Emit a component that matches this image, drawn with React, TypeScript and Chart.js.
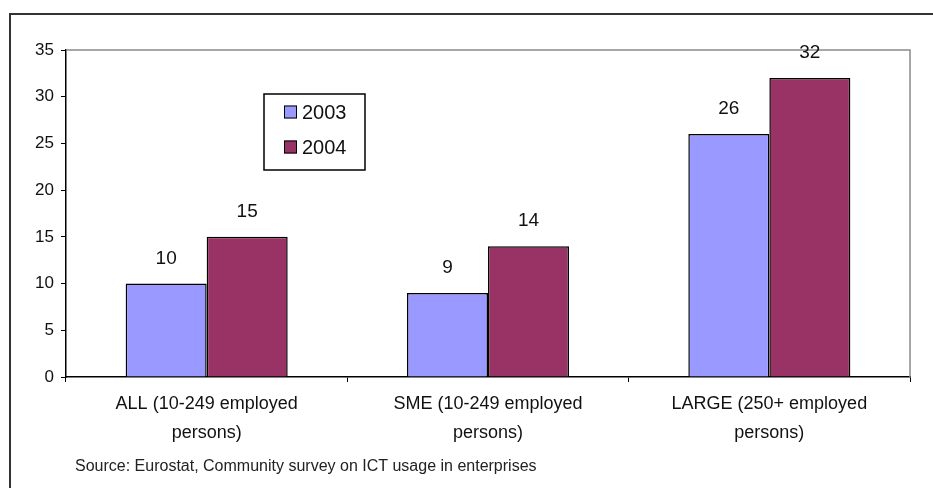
import React, { useEffect, useRef } from "react";
import { Chart, registerables } from "chart.js";

Chart.register(...registerables);

const categories: string[][] = [
  ["ALL (10-249 employed", "persons)"],
  ["SME (10-249 employed", "persons)"],
  ["LARGE (250+ employed", "persons)"],
];
const series2003: number[] = [10, 9, 26];
const series2004: number[] = [15, 14, 32];
const seriesNames: string[] = ["2003", "2004"];
const yTicks: number[] = [0, 5, 10, 15, 20, 25, 30, 35];
const sourceText = "Source: Eurostat, Community survey on ICT usage in enterprises";

const FONT = "'Liberation Sans', Arial, sans-serif";

const decor = {
  id: "decor",
  beforeDatasetsDraw(chart: any) {
    const ctx = chart.ctx;
    const a = chart.chartArea;
    ctx.save();
    // outer frame
    ctx.strokeStyle = "#333";
    ctx.lineWidth = 2;
    ctx.beginPath();
    ctx.moveTo(10, 488);
    ctx.lineTo(10, 14);
    ctx.lineTo(933, 14);
    ctx.stroke();
    // plot area border (top/right)
    ctx.strokeStyle = "#8a8a8a";
    ctx.lineWidth = 1.5;
    ctx.beginPath();
    ctx.moveTo(a.left, a.top);
    ctx.lineTo(a.right, a.top);
    ctx.lineTo(a.right, a.bottom);
    ctx.stroke();
    ctx.restore();
  },
  afterDraw(chart: any) {
    const ctx = chart.ctx;
    ctx.save();
    // data labels
    ctx.fillStyle = "#111";
    ctx.font = `19px ${FONT}`;
    ctx.textAlign = "center";
    ctx.textBaseline = "middle";
    chart.data.datasets.forEach((ds: any, i: number) => {
      const meta = chart.getDatasetMeta(i);
      meta.data.forEach((bar: any, j: number) => {
        ctx.fillText(String(ds.data[j]), bar.x, bar.y - 25);
      });
    });
    // legend
    const lx = 264, ly = 94, lw = 101, lh = 76;
    ctx.fillStyle = "#fff";
    ctx.fillRect(lx, ly, lw, lh);
    ctx.strokeStyle = "#000";
    ctx.lineWidth = 1.5;
    ctx.strokeRect(lx, ly, lw, lh);
    ctx.textAlign = "left";
    ctx.font = `20px ${FONT}`;
    chart.data.datasets.forEach((ds: any, i: number) => {
      const cy = 112 + i * 35;
      ctx.fillStyle = ds.backgroundColor;
      ctx.fillRect(284, cy - 6.5, 13, 13);
      ctx.strokeStyle = "#000";
      ctx.lineWidth = 1;
      ctx.strokeRect(284.5, cy - 6, 12, 12);
      ctx.fillStyle = "#111";
      ctx.fillText(ds.label, 302, cy + 1);
    });
    // source
    ctx.font = `16px ${FONT}`;
    ctx.fillStyle = "#222";
    ctx.textAlign = "left";
    ctx.fillText(sourceText, 75, 467);
    ctx.restore();
  },
};

export default function App() {
  const ref = useRef<HTMLCanvasElement | null>(null);
  useEffect(() => {
    document.body.style.margin = "0";
    const chart = new Chart(ref.current as HTMLCanvasElement, {
      type: "bar",
      data: {
        labels: categories,
        datasets: [
          {
            label: seriesNames[0],
            data: series2003,
            backgroundColor: "#9999FF",
            borderColor: "#000",
            borderWidth: 1.5,
            categoryPercentage: 0.576,
            barPercentage: 1,
          },
          {
            label: seriesNames[1],
            data: series2004,
            backgroundColor: "#993366",
            borderColor: "#000",
            borderWidth: 1.5,
            categoryPercentage: 0.576,
            barPercentage: 1,
          },
        ],
      },
      options: {
        animation: false,
        responsive: false,
        maintainAspectRatio: false,
        layout: { padding: { top: 50, right: 23, bottom: 0, left: 0 } },
        plugins: { legend: { display: false }, tooltip: { enabled: false } },
        scales: {
          x: {
            afterFit: (s: any) => {
              s.height = 111;
            },
            grid: {
              offset: true,
              drawOnChartArea: false,
              drawTicks: true,
              tickLength: 5,
              color: "#000",
            },
            border: { display: true, color: "#000", width: 1.5 },
            ticks: {
              color: "#111",
              font: { family: FONT, size: 18, lineHeight: 1.6 },
              padding: 8,
              maxRotation: 0,
              autoSkip: false,
            },
          },
          y: {
            min: 0,
            max: 35,
            afterFit: (s: any) => {
              s.width = 66;
            },
            afterBuildTicks: (s: any) => {
              s.ticks = yTicks.map((v) => ({ value: v }));
            },
            grid: {
              drawOnChartArea: false,
              drawTicks: true,
              tickLength: 5,
              color: "#000",
            },
            border: { display: true, color: "#000", width: 1.5 },
            ticks: {
              color: "#111",
              font: { family: FONT, size: 17 },
              padding: 7,
            },
          },
        },
      },
      plugins: [decor],
    });
    return () => chart.destroy();
  }, []);
  return (
    <div style={{ width: 933, height: 488, background: "#fff" }}>
      <canvas ref={ref} width={933} height={488} style={{ display: "block" }} />
    </div>
  );
}
